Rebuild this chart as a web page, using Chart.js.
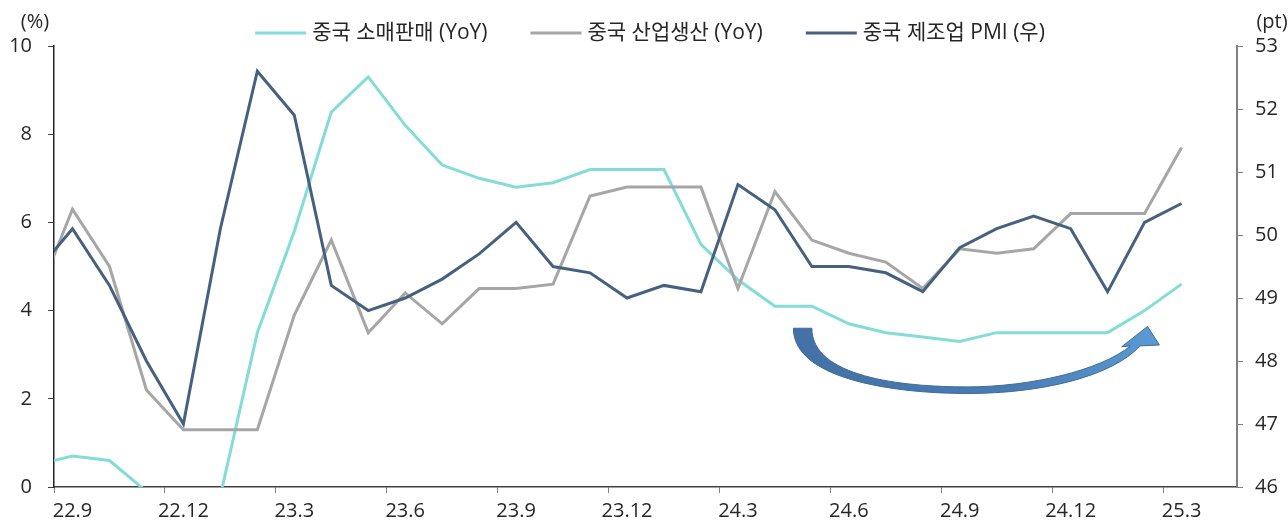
<!DOCTYPE html>
<html>
<head>
<meta charset="utf-8">
<script src="https://cdn.jsdelivr.net/npm/chart.js@4.4.1/dist/chart.umd.min.js"></script>
<style>
  html,body{margin:0;padding:0;background:#fff;}
  #wrap{width:1288px;height:521px;position:relative;}
</style>
</head>
<body>
<div id="wrap"><canvas id="myChart"></canvas></div>
<script>
// months (22.8 sits just left of the axis and is clipped)
const months=['22.8','22.9','22.10','22.11','22.12','23.1','23.2','23.3','23.4','23.5','23.6','23.7','23.8','23.9','23.10','23.11','23.12',
  '24.1','24.2','24.3','24.4','24.5','24.6','24.7','24.8','24.9','24.10','24.11','24.12','25.1','25.2','25.3'];
const tickLabels=['22.9','22.12','23.3','23.6','23.9','23.12','24.3','24.6','24.9','24.12','25.3'];

const retailSales=[0.5,0.7,0.6,-0.1,-0.2,-0.2,3.5,5.8,8.5,9.3,8.2,7.3,7.0,6.8,6.9,7.2,7.2,
  7.2,5.5,4.7,4.1,4.1,3.7,3.5,3.4,3.3,3.5,3.5,3.5,3.5,4.0,4.6];
const industrialProd=[4.2,6.3,5.0,2.2,1.3,1.3,1.3,3.9,5.6,3.5,4.4,3.7,4.5,4.5,4.6,6.6,6.8,
  6.8,6.8,4.5,6.7,5.6,5.3,5.1,4.5,5.4,5.3,5.4,6.2,6.2,6.2,7.7];
const mfgPmi=[49.4,50.1,49.2,48.0,47.0,50.1,52.6,51.9,49.2,48.8,49.0,49.3,49.7,50.2,49.5,49.4,49.0,
  49.2,49.1,50.8,50.4,49.5,49.5,49.4,49.1,49.8,50.1,50.3,50.1,49.1,50.2,50.5];

const seriesNames=['중국 소매판매 (YoY)','중국 산업생산 (YoY)','중국 제조업 PMI (우)'];
const seriesColors=['#84dcd7','#a6a6a6','#46617f'];

// curved arrow annotation, in (month position, left axis value)
const arrowOuter=[[19.5,3.6],[19.5,2.4],[22.4,2.12],[24.2,2.12],[26.2,2.12],[28.1,2.5],[28.88,3.2]];
const arrowHead=[[29.4,3.22],[29.08,3.64],[28.38,3.18],[28.62,3.2]];
const arrowInner=[[27.8,2.64],[25.9,2.27],[24.2,2.27],[22.4,2.27],[20.0,2.5],[20.0,3.6]];

const FONT='"Open Sans", "Noto Sans CJK KR", sans-serif';
Chart.defaults.font.family=FONT;
Chart.defaults.color='#262626';

const toXY=(arr)=>arr.map((v,i)=>({x:i-1,y:v}));

const topLegend={
  id:'topLegend',
  afterDraw(chart){
    const ctx=chart.ctx;
    ctx.save();
    ctx.font='21px '+FONT;
    const sample=51, gap=6, space=43;
    const widths=seriesNames.map(n=>ctx.measureText(n).width);
    let total=widths.reduce((a,b)=>a+b,0)+seriesNames.length*(sample+gap)+space*(seriesNames.length-1);
    let x=650-total/2;
    const y=33;
    for(let i=0;i<seriesNames.length;i++){
      ctx.strokeStyle=seriesColors[i];
      ctx.lineWidth=3;
      ctx.beginPath();
      ctx.moveTo(x,y);
      ctx.lineTo(x+sample,y);
      ctx.stroke();
      ctx.fillStyle='#262626';
      ctx.textBaseline='middle';
      ctx.textAlign='left';
      ctx.fillText(seriesNames[i],x+sample+gap,y);
      x+=sample+gap+widths[i]+space;
    }
    ctx.restore();
  }
};

const axisUnits={
  id:'axisUnits',
  afterDraw(chart){
    const ctx=chart.ctx, a=chart.chartArea;
    ctx.save();
    ctx.font='20px '+FONT;
    ctx.fillStyle='#262626';
    ctx.textAlign='center';
    ctx.textBaseline='middle';
    ctx.fillText('(%)',a.left-19,a.top-24);
    ctx.fillText('(pt)',a.right+35,a.top-24);
    ctx.restore();
  }
};

const curvedArrow={
  id:'curvedArrow',
  afterDatasetsDraw(chart){
    const ctx=chart.ctx, xs=chart.scales.x, ys=chart.scales.y;
    const P=(p)=>[xs.getPixelForValue(p[0]),ys.getPixelForValue(p[1])];
    const o=arrowOuter.map(P), h=arrowHead.map(P), n=arrowInner.map(P);
    ctx.save();
    ctx.beginPath();
    ctx.moveTo(o[0][0],o[0][1]);
    ctx.bezierCurveTo(o[1][0],o[1][1],o[2][0],o[2][1],o[3][0],o[3][1]);
    ctx.bezierCurveTo(o[4][0],o[4][1],o[5][0],o[5][1],o[6][0],o[6][1]);
    h.forEach(p=>ctx.lineTo(p[0],p[1]));
    ctx.bezierCurveTo(n[0][0],n[0][1],n[1][0],n[1][1],n[2][0],n[2][1]);
    ctx.bezierCurveTo(n[3][0],n[3][1],n[4][0],n[4][1],n[5][0],n[5][1]);
    ctx.closePath();
    const g=ctx.createLinearGradient(o[0][0],0,h[0][0],0);
    g.addColorStop(0,'#4371a5');
    g.addColorStop(0.6,'#4a7cb4');
    g.addColorStop(1,'#5b9bd5');
    ctx.fillStyle=g;
    ctx.fill();
    ctx.strokeStyle='#3f6b98';
    ctx.lineWidth=1;
    ctx.stroke();
    ctx.restore();
  }
};

new Chart(document.getElementById('myChart'),{
  type:'line',
  data:{
    datasets:[
      {label:seriesNames[0],data:toXY(retailSales),borderColor:seriesColors[0],yAxisID:'y',order:2},
      {label:seriesNames[1],data:toXY(industrialProd),borderColor:seriesColors[1],yAxisID:'y',order:1},
      {label:seriesNames[2],data:toXY(mfgPmi),borderColor:seriesColors[2],yAxisID:'y2',order:0}
    ]
  },
  options:{
    responsive:true,
    maintainAspectRatio:false,
    animation:false,
    elements:{
      line:{borderWidth:3,tension:0},
      point:{radius:0}
    },
    layout:{padding:{top:46,left:0,right:0,bottom:0}},
    plugins:{
      legend:{display:false},
      tooltip:{enabled:false}
    },
    scales:{
      x:{
        type:'linear',
        bounds:'data',
        min:-0.5,
        max:31.5,
        afterBuildTicks:(s)=>{s.ticks=tickLabels.map((t,k)=>({value:-0.5+3*k}));},
        afterFit:(s)=>{s.height=34;},
        ticks:{
          callback:(v,i)=>tickLabels[i],
          autoSkip:false,
          maxRotation:0,
          labelOffset:18.48,
          padding:6,
          font:{size:20},
          color:'#262626'
        },
        grid:{drawOnChartArea:false,tickLength:6,color:'#808080'},
        border:{color:'#404040',width:1.5}
      },
      y:{
        position:'left',
        min:0,
        max:10,
        afterFit:(s)=>{s.width=54;},
        ticks:{stepSize:2,padding:16,font:{size:20},color:'#262626'},
        grid:{drawOnChartArea:false,tickLength:6,color:'#404040'},
        border:{color:'#262626',width:1.5}
      },
      y2:{
        position:'right',
        min:46,
        max:53,
        afterFit:(s)=>{s.width=51;},
        ticks:{stepSize:1,padding:12,font:{size:20},color:'#262626'},
        grid:{drawOnChartArea:false,tickLength:6,color:'#808080'},
        border:{color:'#808080',width:2}
      }
    }
  },
  plugins:[curvedArrow,topLegend,axisUnits]
});
</script>
</body>
</html>
